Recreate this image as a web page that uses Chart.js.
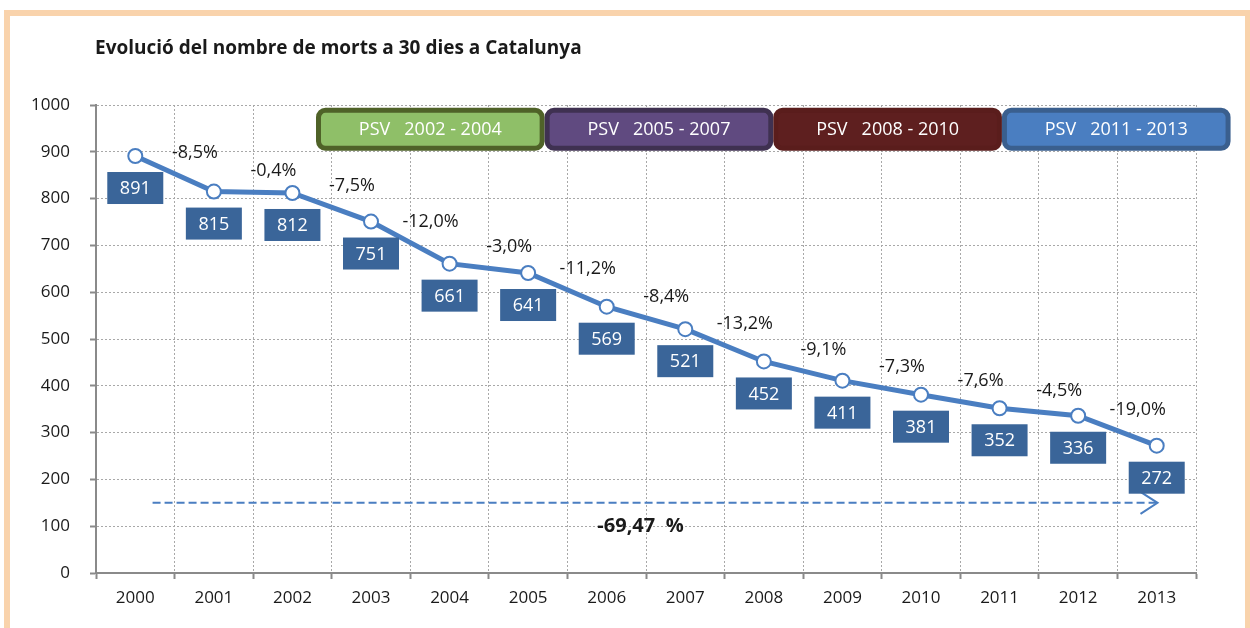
<!DOCTYPE html>
<html>
<head>
<meta charset="utf-8">
<script src="https://cdn.jsdelivr.net/npm/chart.js@4"></script>
<style>
  html, body { margin: 0; padding: 0; background: #fff; }
  #wrap { width: 1250px; height: 628px; }
</style>
</head>
<body>
<div id="wrap"><canvas id="myChart" width="1250" height="628"></canvas></div>
<script>
var chartTitle = 'Evolució del nombre de morts a 30 dies a Catalunya';
var years = ['2000', '2001', '2002', '2003', '2004', '2005', '2006',
             '2007', '2008', '2009', '2010', '2011', '2012', '2013'];
var deaths = [891, 815, 812, 751, 661, 641, 569, 521, 452, 411, 381, 352, 336, 272];
var changes = ['-8,5%', '-0,4%', '-7,5%', '-12,0%', '-3,0%', '-11,2%', '-8,4%',
               '-13,2%', '-9,1%', '-7,3%', '-7,6%', '-4,5%', '-19,0%'];
var yTicks = [0, 100, 200, 300, 400, 500, 600, 700, 800, 900, 1000];
var plans = ['PSV   2002 - 2004', 'PSV   2005 - 2007', 'PSV   2008 - 2010', 'PSV   2011 - 2013'];
var planFill = ['#8FBF68', '#604A80', '#5E1F1F', '#4A7EC1'];
var planEdge = ['#4F6228', '#3F3151', '#5A1D1C', '#3A5F8E'];
var totalChange = '-69,47  %';

var FONT = '"Open Sans", "Noto Sans", sans-serif';
var LINE = '#4A7EC1';
var BOX = '#3A6599';

var decor = {
  id: 'decor',
  beforeDraw: function(chart) {
    var c = chart.ctx;
    c.save();
    c.fillStyle = '#fff';
    c.fillRect(0, 0, chart.width, chart.height);
    // peach frame
    c.fillStyle = '#F9D3AC';
    c.fillRect(4, 10, 1246, 6);
    c.fillRect(4, 10, 6, 618);
    c.fillRect(1245, 10, 5, 618);
    // title
    c.fillStyle = '#1a1a1a';
    c.font = 'bold 19px ' + FONT;
    c.textBaseline = 'middle';
    c.textAlign = 'left';
    c.fillText(chartTitle, chart.chartArea.left - 1, 49);
    c.restore();
  },
  beforeDatasetsDraw: function(chart) {
    var c = chart.ctx, xs = chart.scales.x, ys = chart.scales.y;
    c.save();
    // PSV boxes
    for (var k = 0; k < plans.length; k++) {
      var x0 = xs.getPixelForValue(2.3 + 2.91 * k);
      var x1 = xs.getPixelForValue(2.3 + 2.91 * (k + 1));
      var y0 = ys.getPixelForValue(994), y1 = ys.getPixelForValue(902);
      c.beginPath();
      c.roundRect(x0 + 2.5, y0 + 2.5, x1 - x0 - 5, y1 - y0 - 5, 7);
      c.fillStyle = planFill[k];
      c.fill();
      c.lineWidth = 5;
      c.strokeStyle = planEdge[k];
      c.stroke();
      c.fillStyle = '#fff';
      c.font = '18px ' + FONT;
      c.textAlign = 'center';
      c.textBaseline = 'middle';
      c.fillText(plans[k], (x0 + x1) / 2, (y0 + y1) / 2 + 1);
    }
    // total arrow
    var ax0 = xs.getPixelForValue(0.22), ax1 = xs.getPixelForValue(13.01);
    var ay = ys.getPixelForValue(150);
    c.strokeStyle = LINE;
    c.lineWidth = 2;
    c.setLineDash([8, 4]);
    c.beginPath();
    c.moveTo(ax0, ay);
    c.lineTo(ax1, ay);
    c.stroke();
    c.setLineDash([]);
    c.beginPath();
    c.moveTo(ax1 - 17, ay - 11);
    c.lineTo(ax1, ay);
    c.lineTo(ax1 - 17, ay + 11);
    c.stroke();
    c.fillStyle = '#1a1a1a';
    c.font = 'bold 20px ' + FONT;
    c.textAlign = 'center';
    c.textBaseline = 'middle';
    c.fillText(totalChange, xs.getPixelForValue(6.43), ys.getPixelForValue(100));
    c.restore();
  },
  afterDatasetsDraw: function(chart) {
    var c = chart.ctx, xs = chart.scales.x, ys = chart.scales.y;
    c.save();
    c.textAlign = 'center';
    c.textBaseline = 'middle';
    // yearly change labels
    c.font = '18px ' + FONT;
    c.fillStyle = '#1a1a1a';
    for (var i = 1; i < deaths.length; i++) {
      var py = (ys.getPixelForValue(deaths[i - 1]) + ys.getPixelForValue(deaths[i])) / 2;
      c.fillText(changes[i - 1], xs.getPixelForValue(i) - 19, py - 21);
    }
    // value boxes
    c.font = '18px ' + FONT;
    for (var j = 0; j < deaths.length; j++) {
      var px = xs.getPixelForValue(j), pyy = ys.getPixelForValue(deaths[j]);
      c.fillStyle = BOX;
      c.fillRect(px - 28, pyy + 16, 56, 32);
      c.fillStyle = '#fff';
      c.fillText(String(deaths[j]), px, pyy + 33);
    }
    c.restore();
  }
};

var ctx = document.getElementById('myChart').getContext('2d');
var myChart = new Chart(ctx, {
  type: 'line',
  data: {
    labels: years,
    datasets: [{
      label: 'Morts a 30 dies',
      data: deaths,
      borderColor: LINE,
      borderWidth: 5,
      pointRadius: 7,
      pointBorderWidth: 2,
      pointBackgroundColor: '#fff',
      pointBorderColor: LINE,
      tension: 0
    }]
  },
  options: {
    responsive: false,
    animation: false,
    layout: { padding: { top: 105, right: 54, left: 0, bottom: 0 } },
    plugins: {
      legend: { display: false },
      tooltip: { enabled: false },
      title: { display: false }
    },
    scales: {
      x: {
        offset: true,
        grid: { offset: true, color: '#A8A8A8', lineWidth: 1, tickLength: 6,
                tickColor: '#8A8A8A', tickWidth: 2, tickBorderDash: [] },
        border: { color: '#8A8A8A', width: 2, dash: [2, 2] },
        ticks: { color: '#1a1a1a', font: { family: FONT, size: 17 }, padding: 9, maxRotation: 0 },
        afterFit: function(s) { s.height = 55; }
      },
      y: {
        min: 0,
        max: 1000,
        afterBuildTicks: function(s) { s.ticks = yTicks.map(function(v) { return { value: v }; }); },
        grid: { color: '#A8A8A8', lineWidth: 1, tickLength: 6,
                tickColor: '#8A8A8A', tickWidth: 2, tickBorderDash: [] },
        border: { color: '#8A8A8A', width: 2, dash: [2, 2] },
        ticks: {
          color: '#1a1a1a',
          font: { family: FONT, size: 17 },
          padding: 20,
          callback: function(v) { return String(v); }
        },
        afterFit: function(s) { s.width = 96; }
      }
    }
  },
  plugins: [decor]
});
</script>
</body>
</html>
